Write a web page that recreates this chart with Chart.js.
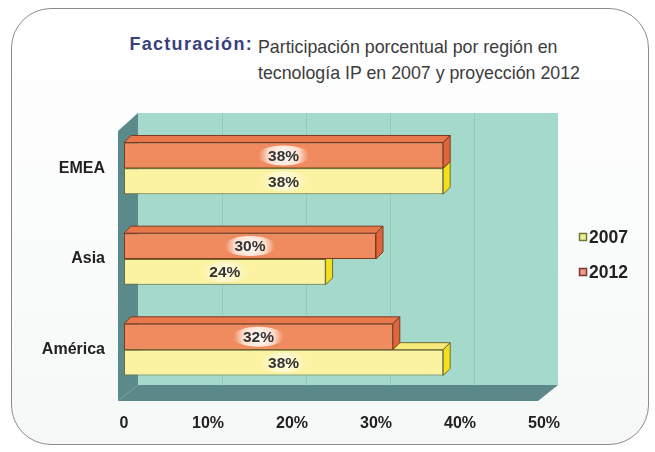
<!DOCTYPE html>
<html lang="es">
<head>
    <meta charset="UTF-8">
    <title>Facturación por región</title>
    <script src="https://cdn.jsdelivr.net/npm/chart.js"></script>
    <style>
        body { margin: 0; background: #fff; font-family: "Liberation Sans", Arial, sans-serif; }
        #wrap { position: relative; width: 655px; height: 452px; overflow: hidden; }
        #frame {
            position: absolute; left: 11px; top: 8px; width: 636px; height: 435px;
            border: 1.5px solid #8c8c8c; border-radius: 40px;
            background: linear-gradient(#ffffff, #f6f8f8);
        }
        #titleA { position: absolute; left: 100px; top: 34px; font-size: 18px; font-weight: bold; color: #3b3f7c; width: 153px; text-align: right; letter-spacing: 1.3px; }
        #titleB { position: absolute; left: 258px; top: 34px; font-size: 17.8px; color: #3c3c3c; line-height: 26px; }
        #myChart { position: absolute; left: 0; top: 0; }
    </style>
</head>
<body>
<div id="wrap">
    <div id="frame"></div>
    <div id="titleA">Facturación:</div>
    <div id="titleB">Participación porcentual por región en<br>tecnología IP en 2007 y proyección 2012</div>
    <canvas id="myChart" width="655" height="452"></canvas>
</div>
<script>
    // 資料
    var regiones = ['EMEA', 'Asia', 'América'];
    var serie2007 = [38, 24, 38];
    var serie2012 = [38, 30, 32];
    var ticksX = [0, 10, 20, 30, 40, 50];

    var colores = {
        '2012': { front: '#ef8b5f', top: '#e9774c', side: '#e0643c', border: '#7c3a1e', box: '#e99a8a' },
        '2007': { front: '#fbf2a2', top: '#f6e97a', side: '#f3df1c', border: '#6e6c34', box: '#eef09a' }
    };

    // 3D 牆面與長條側面
    var fondo3d = {
        id: 'fondo3d',
        beforeDatasetsDraw: function (chart) {
            var ctx = chart.ctx, a = chart.chartArea, xs = chart.scales.x;
            var L = a.left, R = a.right, T = a.top, B = a.bottom;
            ctx.save();
            // back wall
            ctx.fillStyle = '#a4d9cb';
            ctx.fillRect(L + 14, T - 10, (R - L), (B - 10) - (T - 10));
            ctx.strokeStyle = '#92cbbd';
            ctx.lineWidth = 1;
            ticksX.forEach(function (t) {
                if (t === 0 || t === 50) return;
                var gx = Math.round(xs.getPixelForValue(t) + 14) + 0.5;
                ctx.beginPath();
                ctx.moveTo(gx, T - 10);
                ctx.lineTo(gx, B - 10);
                ctx.stroke();
            });
            // left wall
            ctx.fillStyle = '#5a8a8a';
            ctx.beginPath();
            ctx.moveTo(L + 14, T - 10);
            ctx.lineTo(L - 6, T + 8);
            ctx.lineTo(L - 6, B + 6);
            ctx.lineTo(L + 14, B - 10);
            ctx.closePath();
            ctx.fill();
            // floor
            ctx.fillStyle = '#5b8888';
            ctx.beginPath();
            ctx.moveTo(L - 6, B + 6);
            ctx.lineTo(R - 6, B + 6);
            ctx.lineTo(R + 14, B - 10);
            ctx.lineTo(L + 14, B - 10);
            ctx.closePath();
            ctx.fill();

            // bar top and side faces (2007 first, then 2012)
            var d = 7;
            [1, 0].forEach(function (di) {
                var ds = chart.data.datasets[di];
                var c = colores[ds.label];
                chart.getDatasetMeta(di).data.forEach(function (bar) {
                    var top = bar.y - bar.height / 2, bot = bar.y + bar.height / 2;
                    ctx.strokeStyle = c.border;
                    ctx.lineWidth = 1;
                    ctx.fillStyle = c.top;
                    ctx.beginPath();
                    ctx.moveTo(bar.base, top);
                    ctx.lineTo(bar.base + d, top - d);
                    ctx.lineTo(bar.x + d, top - d);
                    ctx.lineTo(bar.x, top);
                    ctx.closePath();
                    ctx.fill();
                    ctx.stroke();
                    ctx.fillStyle = c.side;
                    ctx.beginPath();
                    ctx.moveTo(bar.x, top);
                    ctx.lineTo(bar.x + d, top - d);
                    ctx.lineTo(bar.x + d, bot - d);
                    ctx.lineTo(bar.x, bot);
                    ctx.closePath();
                    ctx.fill();
                    ctx.stroke();
                });
            });
            ctx.restore();
        },
        afterDatasetsDraw: function (chart) {
            var ctx = chart.ctx;
            ctx.save();
            ctx.font = 'bold 15.5px "Liberation Sans", Arial, sans-serif';
            ctx.textAlign = 'center';
            ctx.textBaseline = 'middle';
            chart.data.datasets.forEach(function (ds, di) {
                chart.getDatasetMeta(di).data.forEach(function (bar, i) {
                    var cx = (bar.x + bar.base) / 2, cy = bar.y;
                    // glow pill
                    var g = ctx.createRadialGradient(cx, cy, 2, cx, cy, 25);
                    if (di === 0) {
                        g.addColorStop(0, 'rgba(255,255,255,0.95)');
                        g.addColorStop(0.6, 'rgba(255,240,230,0.8)');
                        g.addColorStop(1, 'rgba(255,230,215,0)');
                    } else {
                        g.addColorStop(0, 'rgba(255,255,240,0.8)');
                        g.addColorStop(1, 'rgba(255,255,240,0)');
                    }
                    ctx.fillStyle = g;
                    ctx.beginPath();
                    ctx.ellipse(cx, cy, 26, 10, 0, 0, Math.PI * 2);
                    ctx.fill();
                    ctx.fillStyle = '#333';
                    ctx.fillText(ds.data[i] + '%', cx, cy + 1);
                });
            });
            ctx.restore();
        },
        afterDraw: function (chart) {
            // leyenda
            var ctx = chart.ctx;
            var items = [{ label: '2007', y: 237 }, { label: '2012', y: 272 }];
            ctx.save();
            ctx.font = 'bold 17.5px "Liberation Sans", Arial, sans-serif';
            ctx.textBaseline = 'middle';
            ctx.textAlign = 'left';
            items.forEach(function (it) {
                var c = colores[it.label];
                ctx.fillStyle = c.box;
                ctx.fillRect(579.5, it.y - 3.5, 7, 7);
                ctx.strokeStyle = it.label === '2007' ? '#6e7a30' : '#7c3a2e';
                ctx.lineWidth = 1.5;
                ctx.strokeRect(579.5, it.y - 3.5, 7, 7);
                ctx.fillStyle = '#222';
                ctx.fillText(it.label, 589, it.y + 1);
            });
            ctx.restore();
        }
    };

    var chart01 = new Chart(document.getElementById('myChart'), {
        type: 'bar',
        data: {
            labels: regiones,
            datasets: [{
                label: '2012',
                data: serie2012,
                backgroundColor: colores['2012'].front,
                borderColor: colores['2012'].border,
                borderWidth: 1,
                borderSkipped: false
            }, {
                label: '2007',
                data: serie2007,
                backgroundColor: colores['2007'].front,
                borderColor: colores['2007'].border,
                borderWidth: 1,
                borderSkipped: false
            }]
        },
        options: {
            indexAxis: 'y',
            responsive: false,
            animation: false,
            layout: { padding: { top: 123, right: 111, left: 0, bottom: 0 } },
            datasets: { bar: { categoryPercentage: 0.57, barPercentage: 1 } },
            plugins: { legend: { display: false }, tooltip: { enabled: false } },
            scales: {
                x: {
                    min: 0, max: 50,
                    afterFit: function (axis) { axis.height = 57; },
                    afterBuildTicks: function (axis) {
                        axis.ticks = ticksX.map(function (v) { return { value: v }; });
                    },
                    ticks: {
                        padding: 19,
                        color: '#222',
                        font: { family: '"Liberation Sans", Arial, sans-serif', size: 16, weight: 'bold' },
                        callback: function (v) { return v === 0 ? '0' : v + '%'; }
                    },
                    grid: { display: false, drawTicks: false },
                    border: { display: false }
                },
                y: {
                    afterFit: function (axis) { axis.width = 124; },
                    ticks: {
                        padding: 19,
                        color: '#222',
                        font: { family: '"Liberation Sans", Arial, sans-serif', size: 16, weight: 'bold' }
                    },
                    grid: { display: false, drawTicks: false },
                    border: { display: false }
                }
            }
        },
        plugins: [fondo3d]
    });
</script>
</body>
</html>
